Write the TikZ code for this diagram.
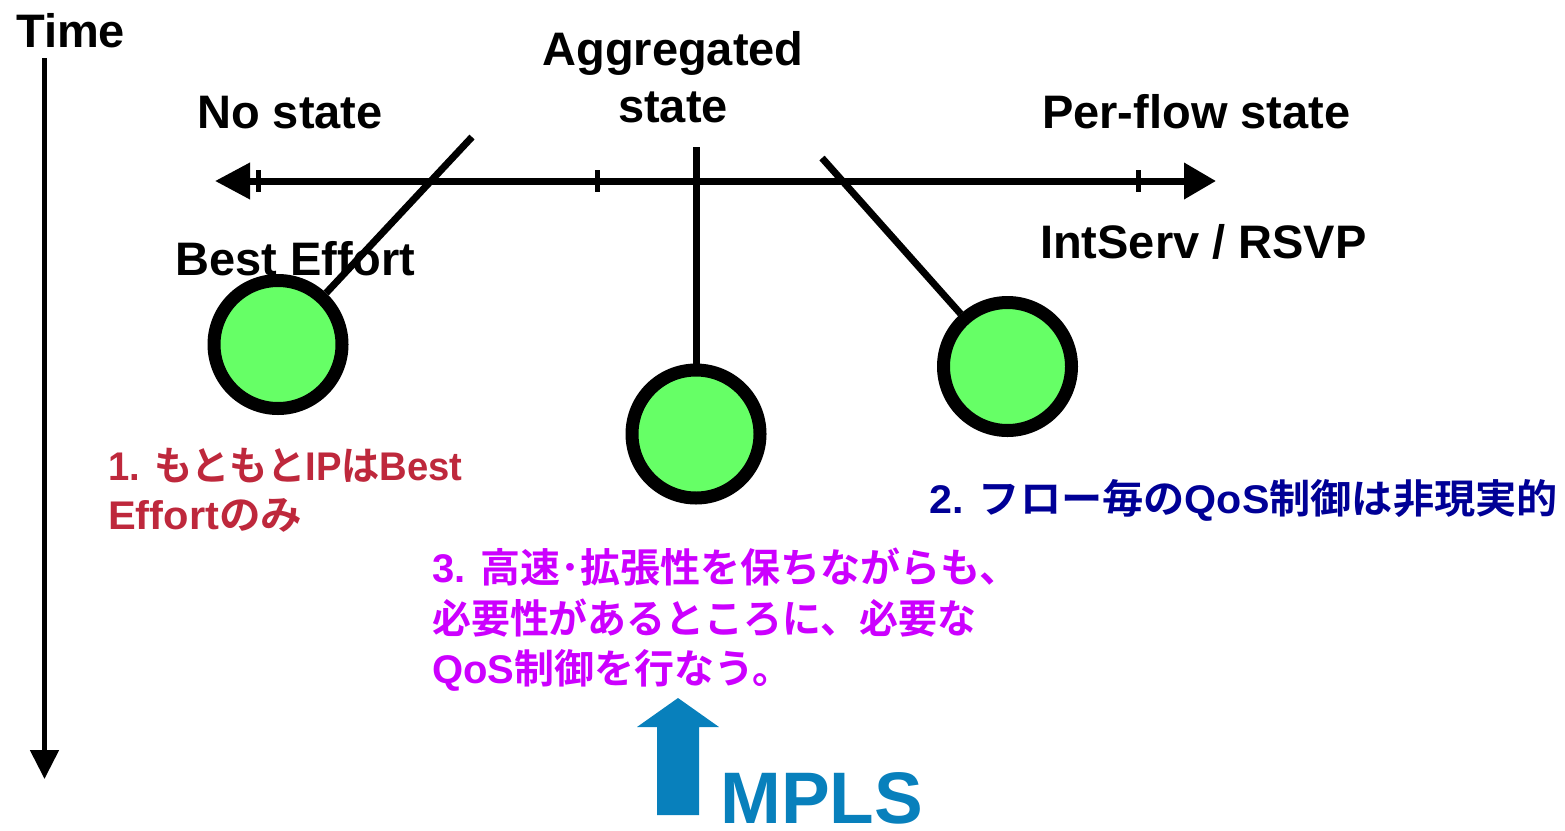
\documentclass[tikz,border=0pt]{standalone}
\usepackage{fontspec}
\setmainfont{Liberation Sans}
\newfontfamily\jp{Noto Sans CJK JP}[BoldFont={Noto Sans CJK JP Bold}]
\usetikzlibrary{arrows.meta}
\definecolor{bered}{RGB}{190,40,60}
\definecolor{navyblue}{RGB}{0,0,150}
\definecolor{violetm}{RGB}{204,0,255}
\definecolor{mplsblue}{RGB}{8,128,188}
\definecolor{ballgreen}{RGB}{102,255,102}
\newcommand{\J}[1]{{\jp\bfseries #1}}
\tikzset{
  lbl/.style={inner sep=0pt, font=\fontsize{47}{56}\selectfont\bfseries},
  jtxt/.style={inner sep=0pt, anchor=base west, font=\fontsize{40}{48}\selectfont\bfseries},
  ball/.style={circle, draw=black, line width=13pt, fill=ballgreen, minimum size=128pt, inner sep=0pt},
  rod/.style={line width=7pt, line cap=butt},
  axisline/.style={line width=7pt, {Triangle[length=35pt,width=35pt]}-{Triangle[length=32pt,width=35pt]}},
  tick/.style={line width=5pt},
  timeaxis/.style={line width=5pt, -{Triangle[length=29pt,width=28pt]}}
}
\begin{document}
\begin{tikzpicture}[x=1pt,y=-1pt]
\useasboundingbox (0,0) rectangle (1565,830);

% time axis
\coordinate (t0) at (44.5,58);
\coordinate (t1) at (44.5,779);
\draw[timeaxis] (t0) -- (t1);
\node[lbl, anchor=base west] (time) at (16,47) {Time};

% state axis
\coordinate (axL) at (215,181);
\coordinate (axR) at (1216,181);
\draw[axisline] (axL) -- (axR);
\coordinate (k1a) at (258,170); \coordinate (k1b) at (258,192);
\coordinate (k2a) at (597,170); \coordinate (k2b) at (597,192);
\coordinate (k3a) at (1138,170); \coordinate (k3b) at (1138,192);
\draw[tick] (k1a) -- (k1b);
\draw[tick] (k2a) -- (k2b);
\draw[tick] (k3a) -- (k3b);

% labels
\node[lbl, anchor=base west] (nostate) at (197,128) {No state};
\node[lbl, anchor=base] (aggr) at (673,65) {Aggregated};
\node[lbl, anchor=base] (aggr2) at (673,122) {state};
\node[lbl, anchor=base west] (perflow) at (1042,128) {Per-flow state};
\node[lbl, anchor=base west] (intserv) at (1040,258) {IntServ / RSVP};
\node[lbl, anchor=base west] (best) at (175,275) {Best Effort};

% pendulums
\node[ball] (bL) at (278,344.5) {};
\node[ball] (bM) at (696,434) {};
\node[ball] (bR) at (1007.5,366.5) {};
\coordinate (pL) at (472,137);
\coordinate (pM) at (696,147);
\coordinate (pR) at (822,158);
\draw[rod] (pL) -- (bL);
\draw[rod] (pM) -- (bM);
\draw[rod] (pR) -- (bR);

% notes
\node[jtxt, text=bered] (n1a) at (108,480) {\scalebox{0.955}[1]{1. \J{もともと}IP\J{は}Best}};
\node[jtxt, text=bered] (n1b) at (108,529) {\scalebox{1.04}[1]{Effort\J{のみ}}};
\node[jtxt, text=navyblue] (n2) at (929,513) {\scalebox{1.03}[1]{2. \J{フロー毎の}QoS\J{制御は非現実的}}};
\node[jtxt, text=violetm] (n3a) at (432,582) {3. \J{高速･拡張性を保ちながらも、}};
\node[jtxt, text=violetm] (n3b) at (432,633) {\scalebox{0.973}[1]{\J{必要性があるところに、必要な}}};
\node[jtxt, text=violetm] (n3c) at (432,683) {QoS\J{制御を行なう。}};

% MPLS arrow
\fill[mplsblue] (678,698) -- (719,727) -- (699,727) -- (699,815) -- (657,815) -- (657,727) -- (637,727) -- cycle;
\node[inner sep=0pt, anchor=base west, text=mplsblue, font=\fontsize{73}{80}\selectfont\bfseries] (mpls) at (720,823) {MPLS};
\end{tikzpicture}
\end{document}
